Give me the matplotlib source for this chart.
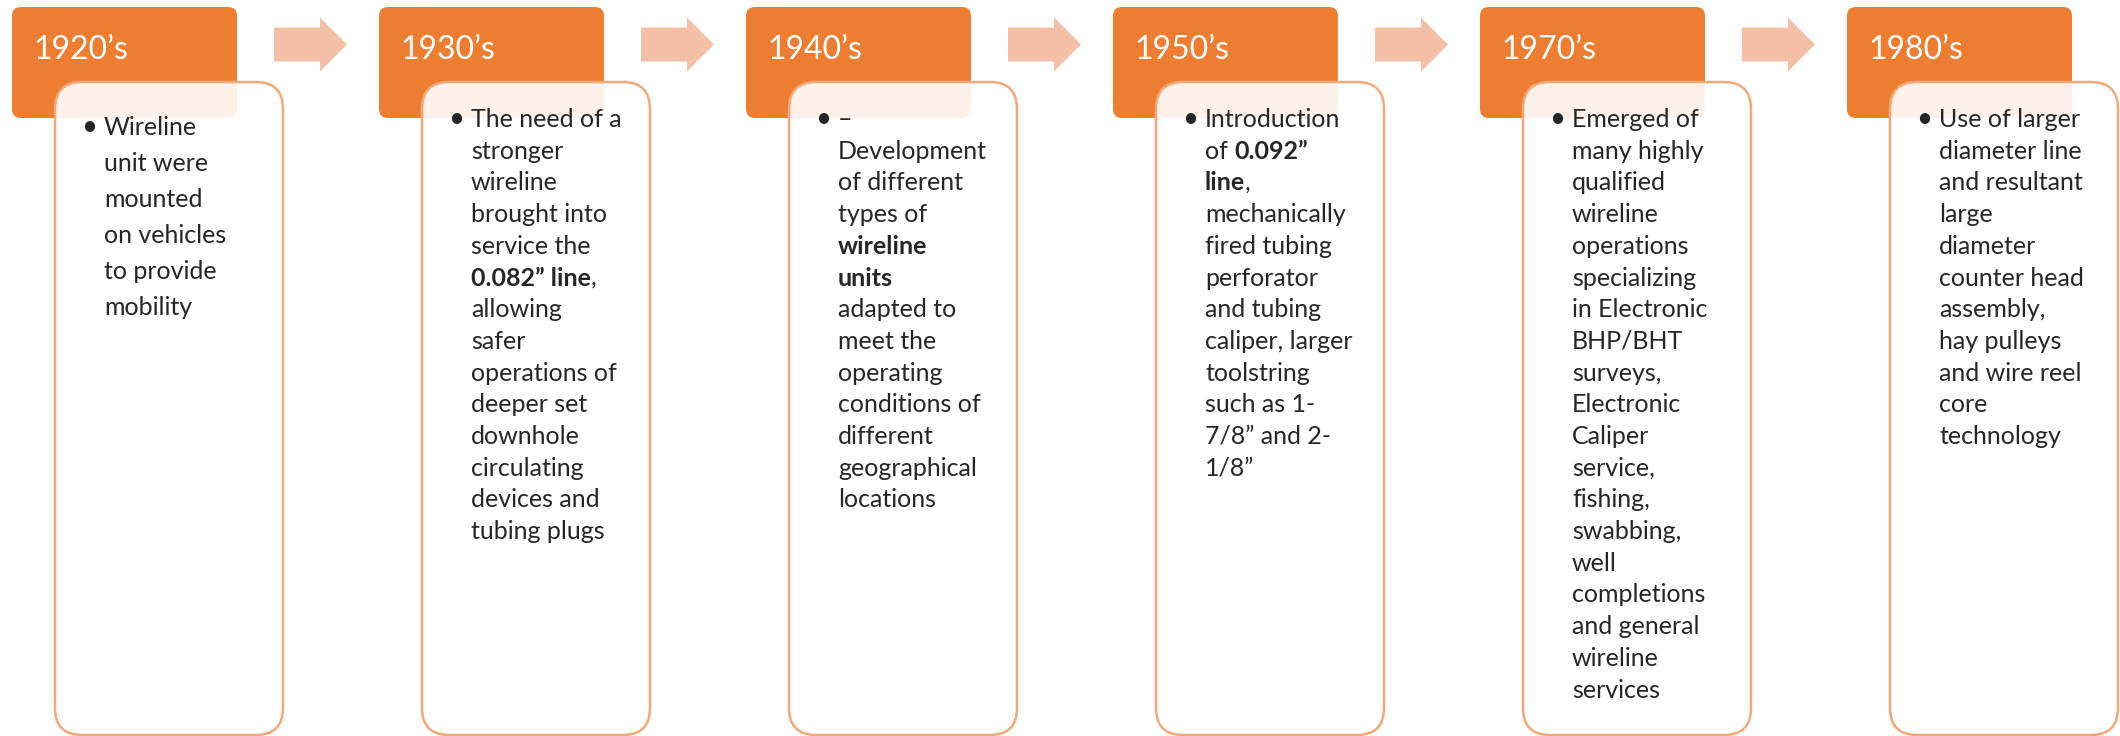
import matplotlib
matplotlib.use("Agg")
import matplotlib.pyplot as plt
from matplotlib.patches import FancyBboxPatch, FancyArrow

plt.rcParams['font.family'] = ['Lato', 'DejaVu Sans']

# Timeline content ("**" marks bold text)
decades = ["1920\u2019s", "1930\u2019s", "1940\u2019s", "1950\u2019s", "1970\u2019s", "1980\u2019s"]

text_1920 = ["Wireline", "unit were", "mounted", "on vehicles", "to provide", "mobility"]
text_1930 = ["The need of a", "stronger", "wireline", "brought into", "service the",
             "**0.082\u201d line**,", "allowing", "safer", "operations of", "deeper set",
             "downhole", "circulating", "devices and", "tubing plugs"]
text_1940 = ["\u2013", "Development", "of different", "types of", "**wireline**", "**units**",
             "adapted to", "meet the", "operating", "conditions of", "different",
             "geographical", "locations"]
text_1950 = ["Introduction", "of **0.092\u201d**", "**line**,", "mechanically", "fired tubing",
             "perforator", "and tubing", "caliper, larger", "toolstring", "such as 1-",
             "7/8\u201d and 2-", "1/8\u201d"]
text_1970 = ["Emerged of", "many highly", "qualified", "wireline", "operations",
             "specializing", "in Electronic", "BHP/BHT", "surveys,", "Electronic",
             "Caliper", "service,", "fishing,", "swabbing,", "well", "completions",
             "and general", "wireline", "services"]
text_1980 = ["Use of larger", "diameter line", "and resultant", "large", "diameter",
             "counter head", "assembly,", "hay pulleys", "and wire reel", "core",
             "technology"]
descriptions = [text_1920, text_1930, text_1940, text_1950, text_1970, text_1980]

# Layout (pixels)
W, H = 2120, 736
pitch = 367
head_x0, head_y0, head_w, head_h = 12, 7, 225, 111
card_dx, card_y0, card_w, card_h = 43, 82, 228, 653
orange = "#ED7D31"
border = "#F2A878"
arrow_col = "#F4BFA7"
text_col = "#262626"

fig = plt.figure(figsize=(W / 100, H / 100), dpi=100)
ax = fig.add_axes([0, 0, 1, 1])
ax.set_xlim(0, W)
ax.set_ylim(H, 0)
ax.axis("off")
renderer = fig.canvas.get_renderer()


def text_width(s, weight):
    # width of a string including trailing spaces
    t1 = ax.text(0, 0, s + "|", fontsize=18, fontweight=weight)
    t2 = ax.text(0, 0, "|", fontsize=18, fontweight=weight)
    w = t1.get_window_extent(renderer).width - t2.get_window_extent(renderer).width
    t1.remove()
    t2.remove()
    return w


def draw_line(x, y, line):
    parts = line.split("**")
    for k, seg in enumerate(parts):
        if not seg:
            continue
        weight = "bold" if k % 2 == 1 else "normal"
        ax.text(x, y, seg, fontsize=18, fontweight=weight, color=text_col,
                va="baseline", ha="left")
        x += text_width(seg, weight)


for i, (dec, lines) in enumerate(zip(decades, descriptions)):
    hx = head_x0 + i * pitch
    ax.add_patch(FancyBboxPatch((hx, head_y0), head_w, head_h,
                                boxstyle="round,pad=0,rounding_size=9",
                                fc=orange, ec="none", zorder=1))
    ax.text(hx + 21, 59, dec, fontsize=23, color="white", va="baseline",
            ha="left", zorder=3)

    cx = hx + card_dx
    ax.add_patch(FancyBboxPatch((cx, card_y0), card_w, card_h,
                                boxstyle="round,pad=0,rounding_size=27",
                                fc=(1, 1, 1, 0.9), ec=border, lw=1.8, zorder=2))

    if i == 0:
        y0, step = 135, 36
    else:
        y0, step = 127, 31.7
    ax.text(cx + 34, y0, "\u2022", fontsize=20, color=text_col, va="baseline",
            ha="center", zorder=3)
    for j, line in enumerate(lines):
        draw_line(cx + 49, y0 + j * step, line)

    if i < len(decades) - 1:
        ax.add_patch(FancyArrow(hx + 262, 44.5, 73, 0, width=34, head_width=54,
                                head_length=27, length_includes_head=True,
                                fc=arrow_col, ec="none", zorder=1))

fig.savefig("out.png", dpi=100)
